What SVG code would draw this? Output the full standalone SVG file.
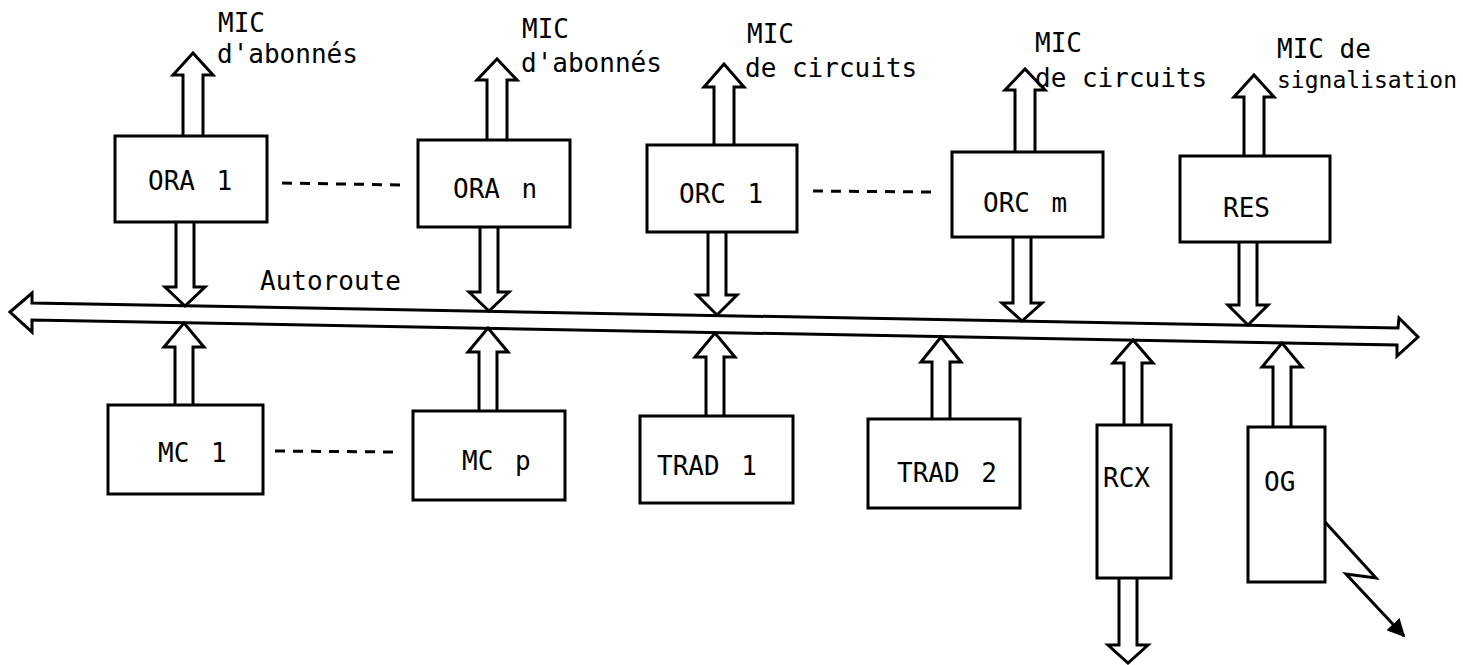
<svg xmlns="http://www.w3.org/2000/svg" width="1463" height="665" viewBox="0 0 1463 665">
<defs>
<style>
.box{fill:#fff;stroke:#000;stroke-width:3}
.arr{fill:#fff;stroke:#000;stroke-width:3;stroke-linejoin:miter}
.dash{stroke:#000;stroke-width:3;stroke-dasharray:10 8;fill:none}
.t{font-family:"DejaVu Sans Mono","Liberation Mono",monospace;font-size:26px;fill:#000}
.bl{font-family:"DejaVu Sans Mono","Liberation Mono",monospace;font-size:26px;fill:#000;word-spacing:6px}
</style>
<marker id="ah" viewBox="0 0 10 10" refX="9" refY="5" markerWidth="6" markerHeight="6" orient="auto" markerUnits="strokeWidth"><path d="M0,0 L10,5 L0,10 z" fill="#000"/></marker>
</defs>
<rect width="1463" height="665" fill="#fff"/>
<g id="connectors">
<polygon class="arr" points="10,312 32,293 32,303 1398,328 1399,318 1418,337 1397,356 1397,345 32,320 32,332"/>
<text class="t" x="260" y="290">Autoroute</text>
<polyline class="arr" points="183,136 183,75 173,75 193,53 213,75 203,75 203,136"/>
<polyline class="arr" points="487,140 487,80 477,80 497,59 517,80 507,80 507,140"/>
<polyline class="arr" points="714,145 714,87 704,87 724,64 744,87 734,87 734,145"/>
<polyline class="arr" points="1015,152 1015,90 1005,90 1025,69 1045,90 1035,90 1035,152"/>
<polyline class="arr" points="1244,156 1244,97 1234,97 1254,75 1274,97 1264,97 1264,156"/>
<polyline class="arr" points="176,222 176,287 165,287 185,306 205,287 194,287 194,222"/>
<polyline class="arr" points="480,227 480,292 469,292 489,311 509,292 498,292 498,227"/>
<polyline class="arr" points="708,232 708,295 697,295 717,315 737,295 726,295 726,232"/>
<polyline class="arr" points="1013,237 1013,303 1002,303 1022,321 1042,303 1031,303 1031,237"/>
<polyline class="arr" points="1239,242 1239,305 1228,305 1248,325 1268,305 1257,305 1257,242"/>
<polyline class="arr" points="175,405 175,347 164,347 184,323 204,347 193,347 193,405"/>
<polyline class="arr" points="479,411 479,352 468,352 488,328 508,352 497,352 497,411"/>
<polyline class="arr" points="706,416 706,357 695,357 715,333 735,357 724,357 724,416"/>
<polyline class="arr" points="932,419 932,362 921,362 941,337 961,362 950,362 950,419"/>
<polyline class="arr" points="1124,425 1124,363 1113,363 1133,340 1153,363 1142,363 1142,425"/>
<polyline class="arr" points="1273,427 1273,367 1262,367 1282,343 1302,367 1291,367 1291,427"/>
<polyline class="arr" points="1119,578 1119,645 1108,645 1128,663 1148,645 1137,645 1137,578"/>
<line class="dash" x1="282" y1="183" x2="405" y2="185"/>
<line class="dash" x1="813" y1="191" x2="935" y2="192"/>
<line class="dash" x1="275" y1="451" x2="397" y2="452"/>
<polyline points="1325,522 1376,578 1346,574 1404,636" fill="none" stroke="#000" stroke-width="3" marker-end="url(#ah)"/>
</g>
<g id="ora1"><rect class="box" x="115" y="136" width="152" height="86"/><text class="bl" x="148" y="190">ORA 1</text></g>
<g id="oran"><rect class="box" x="418" y="140" width="152" height="87"/><text class="bl" x="453" y="198">ORA n</text></g>
<g id="orc1"><rect class="box" x="647" y="145" width="150" height="87"/><text class="bl" x="679" y="203">ORC 1</text></g>
<g id="orcm"><rect class="box" x="952" y="152" width="151" height="85"/><text class="bl" x="983" y="212">ORC m</text></g>
<g id="res"><rect class="box" x="1180" y="156" width="150" height="86"/><text class="bl" x="1223" y="217">RES</text></g>
<g id="mc1"><rect class="box" x="108" y="405" width="155" height="89"/><text class="bl" x="158" y="462">MC 1</text></g>
<g id="mcp"><rect class="box" x="413" y="411" width="152" height="89"/><text class="bl" x="462" y="470">MC p</text></g>
<g id="trad1"><rect class="box" x="640" y="416" width="153" height="87"/><text class="bl" x="657" y="475">TRAD 1</text></g>
<g id="trad2"><rect class="box" x="868" y="419" width="152" height="89"/><text class="bl" x="897" y="482">TRAD 2</text></g>
<g id="rcx"><rect class="box" x="1097" y="425" width="74" height="153"/><text class="bl" x="1103" y="487">RCX</text></g>
<g id="og"><rect class="box" x="1248" y="427" width="77" height="155"/><text class="bl" x="1264" y="491">OG</text></g>
<g id="labels">
<text class="t" x="218" y="32">MIC</text>
<text class="t" x="217" y="63">d'abonnés</text>
<text class="t" x="522" y="38">MIC</text>
<text class="t" x="521" y="72">d'abonnés</text>
<text class="t" x="747" y="43">MIC</text>
<text class="t" x="745" y="77">de circuits</text>
<text class="t" x="1035" y="52">MIC</text>
<text class="t" x="1035" y="87">de circuits</text>
<text class="t" x="1277" y="58">MIC de</text>
<text class="t" x="1277" y="88" style="font-size:23px">signalisation</text>
</g>
</svg>
